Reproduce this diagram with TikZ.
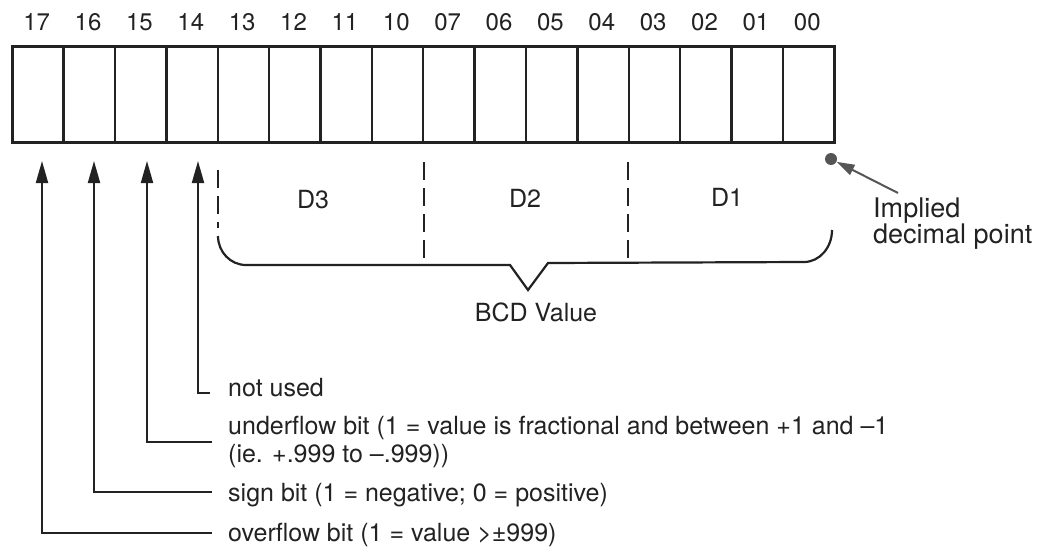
\documentclass[tikz,border=0pt]{standalone}
\usepackage{fontspec}
\setmainfont{TeX Gyre Heros}
\usetikzlibrary{arrows.meta}
\definecolor{ink}{HTML}{222222}
\definecolor{dotgray}{HTML}{555555}
\tikzset{
  cell/.style={draw=ink, line width=2.4pt, minimum width=51.375pt, minimum height=96pt, inner sep=0pt, anchor=north west},
  bitlabel/.style={text=ink, font=\fontsize{24}{28}\selectfont, inner sep=0pt},
  txt/.style={text=ink, font=\fontsize{25}{28}\selectfont, inner sep=0pt},
  lead/.style={draw=ink, line width=2pt},
  uparrow/.style={lead, -{Triangle[length=22pt,width=12pt]}},
  divider/.style={draw=ink, line width=2.2pt, dash pattern=on 18pt off 8pt},
  brace/.style={draw=ink, line width=2.2pt, line join=miter},
}
\begin{document}
\begin{tikzpicture}[x=1pt,y=-1pt]
\useasboundingbox (0,0) rectangle (1043,554);
% register cells and bit labels
\foreach \lab [count=\i from 0] in {17,16,15,14,13,12,11,10,07,06,05,04,03,02,01,00}{
  \node[cell] (c\lab) at ({11+51.375*\i},45) {};
  \node[bitlabel] (l\lab) at ({11+51.375*(\i+0.5)},22) {\lab};
}
\node[draw=ink, line width=3pt, minimum width=822pt, minimum height=96pt, inner sep=0pt, anchor=north west] (reg) at (11,45) {};

% tips of the arrows
\coordinate (t17) at (42,161);
\coordinate (t16) at (94,161);
\coordinate (t15) at (147,161);
\coordinate (t14) at (198,161);
% corners
\coordinate (k14) at (198,393);
\coordinate (k15) at (147,442);
\coordinate (k16) at (94,492);
\coordinate (k17) at (42,533);
\coordinate (e14) at (210,393);
\coordinate (e15) at (212,442);
\coordinate (e16) at (212,492);
\coordinate (e17) at (212,533);

\draw[uparrow] (e14) -- (k14) -- (t14);
\draw[uparrow] (e15) -- (k15) -- (t15);
\draw[uparrow] (e16) -- (k16) -- (t16);
\draw[uparrow] (e17) -- (k17) -- (t17);

\node[txt, anchor=west] (nu) at (228,388) {not used};
\node[txt, anchor=north west, align=left] (uf) at (228,416) {underflow bit (1 = value is fractional and between +1 and –1\\(ie. +.999 to –.999))};
\node[txt, anchor=west] (sb) at (228,495) {sign bit (1 = negative; 0 = positive)};
\node[txt, anchor=west] (ob) at (228,535) {overflow bit (1 = value >±999)};

% BCD brace
\coordinate (dtop1) at (218,170);
\coordinate (dbot1) at (218,228);
\coordinate (dtop2) at (424,162);
\coordinate (dbot2) at (424,265);
\coordinate (dtop3) at (628,162);
\coordinate (dbot3) at (628,263);
\draw[divider] (dtop1) -- (dbot1);
\draw[divider] (dtop2) -- (dbot2);
\draw[divider] (dtop3) -- (dbot3);
\coordinate (bl) at (218,236);
\coordinate (br) at (832,230);
\coordinate (vtip) at (528,290);
\draw[brace] (bl) arc[start angle=180, end angle=90, x radius=28pt, y radius=-29pt]
  -- (510,265) -- (vtip) -- (548,263) -- (804,262)
  arc[start angle=90, end angle=0, x radius=28pt, y radius=-32pt];

\node[txt] (d3) at (313,200) {D3};
\node[txt] (d2) at (525,198) {D2};
\node[txt] (d1) at (727,197) {D1};
\node[txt] (bcd) at (536,312) {BCD Value};

% implied decimal point
\node[circle, fill=dotgray, minimum size=12pt, inner sep=0pt] (dot) at (831,159) {};
\node[txt, font=\fontsize{27}{26}\selectfont, anchor=north west, align=left] (imp) at (873,198) {Implied\\decimal point};
\coordinate (ia) at (898,193);
\draw[draw=dotgray, line width=2pt, -{Triangle[length=18pt,width=11pt]}] (ia) -- (dot);
\end{tikzpicture}
\end{document}
